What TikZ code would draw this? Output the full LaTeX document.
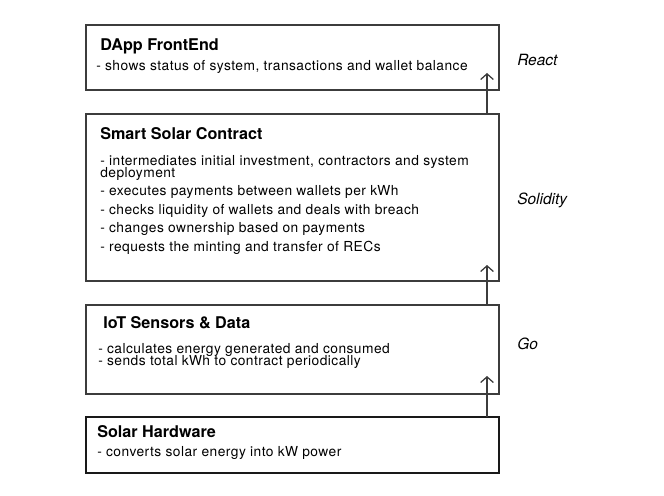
\documentclass[tikz,border=0pt]{standalone}
\usepackage{fontspec}
\setmainfont{TeX Gyre Heros}
\usetikzlibrary{arrows.meta}
\definecolor{linegray}{HTML}{3C3C3C}

\begin{document}
\begin{tikzpicture}[
    layer/.style={draw=linegray,line width=0.9pt,minimum width=10.325cm,inner sep=0pt,outer sep=0pt},
    title/.style={anchor=base west,inner sep=0pt,font=\fontsize{11.5}{13}\selectfont\bfseries},
    item/.style={anchor=base west,inner sep=0pt,font=\fontsize{9.8}{11}\selectfont\addfontfeature{LetterSpace=3.3}},
    lang/.style={anchor=base west,inner sep=0pt,font=\fontsize{11}{13}\selectfont\itshape},
    flow/.style={draw=linegray,line width=0.9pt,-{Straight Barb[length=4pt,width=9pt]}}]
\useasboundingbox (0,0) rectangle (16.6,12.375);

\node[layer,minimum height=1.625cm] (front) at (7.3125,10.9375) {};
\node[title] (fronttitle) at (2.5,11.1) {DApp FrontEnd};
\node[item] (front1) at (2.4,10.6) {- shows status of system, transactions and wallet balance};
\node[lang] (react) at (12.925,10.725) {React};

\node[layer,minimum height=4.175cm] (contract) at (7.3125,7.4375) {};
\node[title] (contracttitle) at (2.5,8.9) {Smart Solar Contract};
\node[item] (contract1) at (2.5,8.25) {- intermediates initial investment, contractors and system};
\node[item] (contract1b) at (2.5,7.925) {deployment};
\node[item] (contract2) at (2.5,7.475) {- executes payments between wallets per kWh};
\node[item] (contract3) at (2.5,7.025) {- checks liquidity of wallets and deals with breach};
\node[item] (contract4) at (2.5,6.575) {- changes ownership based on payments};
\node[item] (contract5) at (2.5,6.1) {- requests the minting and transfer of RECs};
\node[lang] (solidity) at (12.925,7.275) {Solidity};

\node[layer,minimum height=2.225cm] (sensors) at (7.3125,3.6375) {};
\node[title] (sensorstitle) at (2.575,4.175) {IoT Sensors \& Data};
\node[item] (sensors1) at (2.45,3.55) {- calculates energy generated and consumed};
\node[item] (sensors2) at (2.45,3.25) {- sends total kWh to contract periodically};
\node[lang] (golang) at (12.925,3.65) {Go};

\node[layer,draw=black!90,line width=1.3pt,minimum height=1.4cm] (hardware) at (7.3125,1.25) {};
\node[title] (hardwaretitle) at (2.425,1.45) {Solar Hardware};
\node[item] (hardware1) at (2.425,0.975) {- converts solar energy into kW power};

\draw[flow] ([xshift=-0.3cm]contract.north east) -- ([xshift=-0.3cm,yshift=0.425cm]front.south east);
\draw[flow] ([xshift=-0.3cm]sensors.north east) -- ([xshift=-0.3cm,yshift=0.4cm]contract.south east);
\draw[flow] ([xshift=-0.3cm]hardware.north east) -- ([xshift=-0.3cm,yshift=0.45cm]sensors.south east);
\end{tikzpicture}
\end{document}
